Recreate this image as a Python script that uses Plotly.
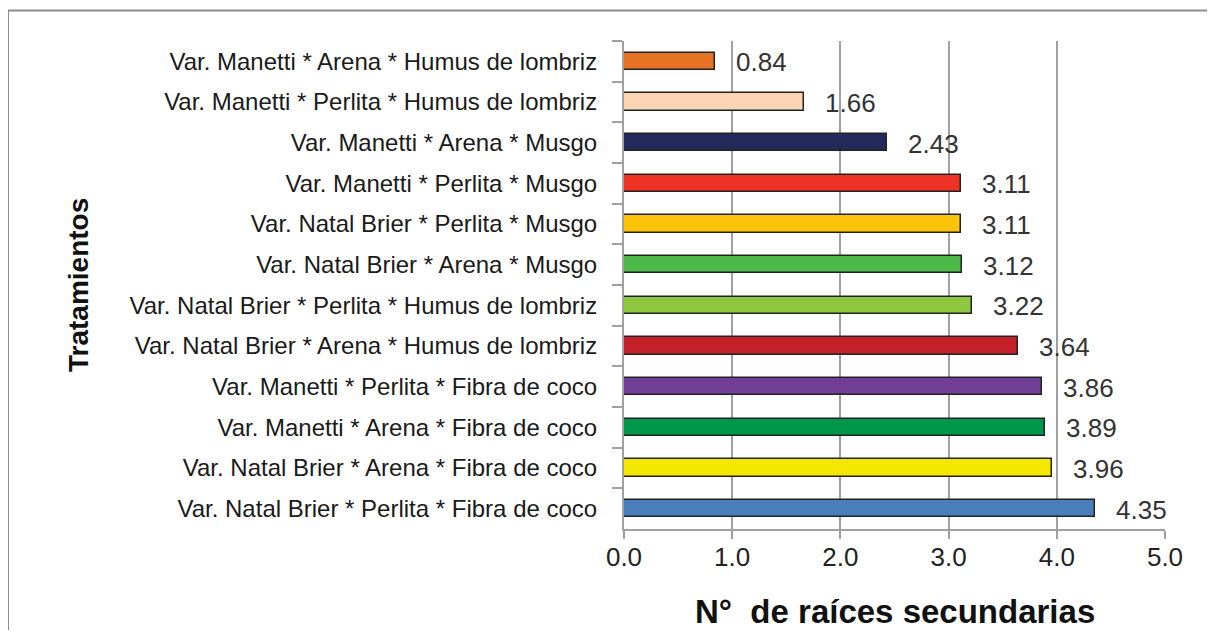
"""Horizontal bar chart: secondary roots per treatment."""
import plotly.graph_objects as go

# treatments, top to bottom as shown in the chart
tratamientos = [
    "Var. Manetti * Arena * Humus de lombriz",
    "Var. Manetti * Perlita * Humus de lombriz",
    "Var. Manetti * Arena * Musgo",
    "Var. Manetti * Perlita * Musgo",
    "Var. Natal Brier * Perlita * Musgo",
    "Var. Natal Brier * Arena * Musgo",
    "Var. Natal Brier * Perlita * Humus de lombriz",
    "Var. Natal Brier * Arena * Humus de lombriz",
    "Var. Manetti * Perlita * Fibra de coco",
    "Var. Manetti * Arena * Fibra de coco",
    "Var. Natal Brier * Arena * Fibra de coco",
    "Var. Natal Brier * Perlita * Fibra de coco",
]
raices = [0.84, 1.66, 2.43, 3.11, 3.11, 3.12, 3.22, 3.64, 3.86, 3.89, 3.96, 4.35]
colores = [
    "#E67324", "#FCD5B4", "#222A5C", "#EE3224", "#FDC20A", "#4CB848",
    "#8DC63F", "#C4202A", "#703E97", "#00974A", "#F5E800", "#4A7EBB",
]
x_ticks = [0, 1, 2, 3, 4, 5]

# the page body keeps its 8px margin, so the figure is 16px smaller
PAGE_W, PAGE_H = 1215, 638
OFF = 8
W, H = PAGE_W - 2 * OFF, PAGE_H - 2 * OFF
FONT = "Liberation Sans, Arial, sans-serif"
GRID = "#A0A0A0"


def px(x):
    # page pixel -> paper x
    return (x - OFF) / W


def py(y):
    # page pixel -> paper y
    return 1 - (y - OFF) / H


fig = go.Figure()
fig.add_bar(
    x=raices, y=tratamientos, orientation="h",
    width=0.42,
    marker=dict(color=colores, line=dict(color="#222222", width=1.5)),
    hoverinfo="x+y",
)

# value labels to the right of each bar
for v, t in zip(raices, tratamientos):
    fig.add_annotation(
        x=v, y=t, xref="x", yref="y", text=f"{v:.2f}",
        showarrow=False, xanchor="left", xshift=19, yshift=-1,
        font=dict(family=FONT, size=26, color="#333333"),
    )

# axis titles
fig.add_annotation(
    x=px(78), y=py(285), xref="paper", yref="paper",
    xanchor="center", yanchor="middle",
    text="<b>Tratamientos</b>", textangle=-90, showarrow=False,
    font=dict(family=FONT, size=28, color="#111111"),
)
fig.add_annotation(
    x=px(895), y=py(611), xref="paper", yref="paper",
    xanchor="center", yanchor="middle",
    text="<b>N°  de raíces secundarias</b>", showarrow=False,
    font=dict(family=FONT, size=33, color="#111111"),
)

# outer frame (runs off the right and bottom edges)
fig.add_shape(
    type="rect", xref="paper", yref="paper",
    x0=px(8), x1=1.02, y0=-0.02, y1=py(10.5),
    line=dict(color="#8C8C8C", width=2),
)

fig.update_layout(
    width=W, height=H,
    margin=dict(l=0, r=0, t=0, b=0, autoexpand=False),
    paper_bgcolor="white", plot_bgcolor="white",
    showlegend=False,
    font=dict(family=FONT, color="#1A1A1A"),
    bargap=0,
    xaxis=dict(
        domain=[px(624), px(1165)], automargin=False,
        range=[0, 5], tickvals=x_ticks, tickformat=".1f",
        showgrid=True, gridcolor=GRID, gridwidth=2,
        showline=True, linecolor=GRID, linewidth=2,
        ticks="outside", ticklen=8, tickcolor=GRID, tickwidth=2,
        ticklabelstandoff=-4,
        tickfont=dict(family=FONT, size=26, color="#222222"),
        zeroline=False,
    ),
    yaxis=dict(
        domain=[py(529), py(41)], automargin=False,
        autorange="reversed", type="category",
        showline=True, linecolor=GRID, linewidth=2,
        ticks="outside", ticklen=10, tickcolor=GRID, tickwidth=2,
        tickson="boundaries", ticklabelstandoff=20,
        tickfont=dict(family=FONT, size=24, color="#1A1A1A"),
        showgrid=False,
    ),
)

fig.write_html("out.html")
